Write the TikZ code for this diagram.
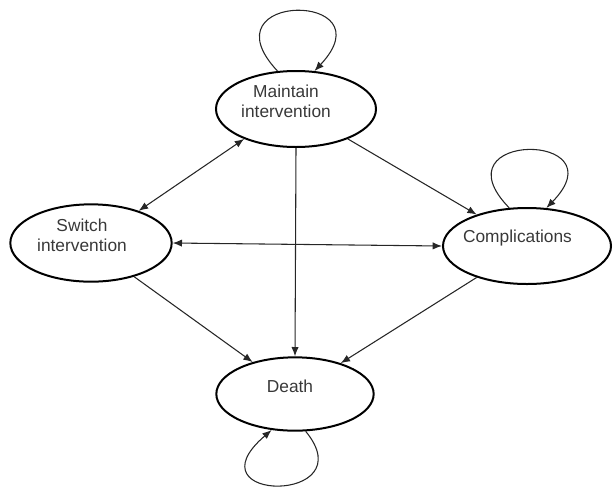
\documentclass[tikz,border=0pt]{standalone}
\usepackage{fontspec}
\setmainfont{Liberation Sans}
\usepackage{tikz}
\usetikzlibrary{shapes.geometric}
\usetikzlibrary{arrows.meta}

\begin{document}
\begin{tikzpicture}[>={Latex[length=7pt,width=5.5pt]}, x=0.75pt, y=-0.75pt,
		state/.style={ellipse, draw=black, line width=1.5pt, inner sep=0pt},
		lbl/.style={align=center, inner sep=0pt, text=black!78, font=\fontsize{13}{15}\selectfont},
		link/.style={line width=0.8pt, draw=black!85}]
			\useasboundingbox (0,0) rectangle (614,490);
			%states
			\node at (296,109) (maint) [state, minimum width=120pt, minimum height=57pt] {};
			\node at (91,243) (switch) [state, minimum width=121pt, minimum height=58pt] {};
			\node at (527,246) (comp) [state, minimum width=126pt, minimum height=57pt] {};
			\node at (295,394) (death) [state, minimum width=118pt, minimum height=55pt] {};
			%names
			\node at (286,101) (maintlbl) [lbl] {Maintain\\intervention};
			\node at (82,235) (switchlbl) [lbl] {Switch\\intervention};
			\node at (517.5,238.5) (complbl) [lbl] {Complications};
			\node at (290,386.5) (deathlbl) [lbl] {Death};

			%loops
			\draw [link,->] (maint.116) .. controls +(-75,-80) and +(75,-80) .. (maint.64);
			\draw [link,->] (comp.115) .. controls +(-75,-77) and +(75,-77) .. (comp.63);
			\draw [link,->] (death.286) .. controls +(60,73) and +(-85,73) .. (death.237);

			%transitions
			\draw [link,<->] (maint.210) -- (switch.34);
			\draw [link,<->] (switch.east) -- (comp.west);
			\draw [link,->] (maint.330) -- (comp.148);
			\draw [link,->] (maint.south) -- (death.north);
			\draw [link,->] (switch.322) -- (death.143);
			\draw [link,->] (comp.212) -- (death.34);
		\end{tikzpicture}
\end{document}
